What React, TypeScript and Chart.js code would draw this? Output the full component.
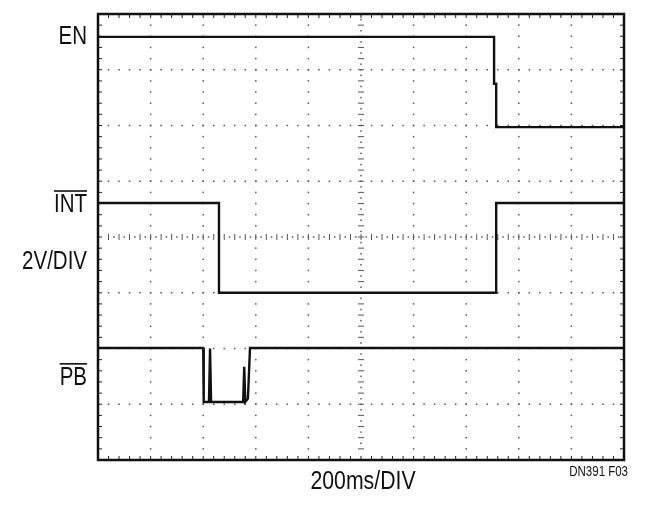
import React, { useEffect, useRef } from "react";
import { Chart, registerables } from "chart.js";

Chart.register(...registerables);

// Oscilloscope screen: 10 horizontal x 8 vertical divisions, 5 minor steps each
const xDivisions = 10;
const yDivisions = 8;
const minorPerDiv = 5;

// EN trace (x, y in divisions)
const enX = [0, 7.53, 7.53, 7.57, 7.57, 10];
const enY = [7.59, 7.59, 6.75, 6.75, 5.97, 5.97];

// INT (overbar) trace
const intX = [0, 2.3, 2.3, 7.57, 7.57, 10];
const intY = [4.61, 4.61, 3.0, 3.0, 4.61, 4.61];

// PB (overbar) trace with contact bounce
const pbX = [0, 2.0, 2.01, 2.11, 2.13, 2.15, 2.76, 2.78, 2.8, 2.85, 2.89, 10];
const pbY = [2.01, 2.01, 1.04, 1.04, 2.0, 1.04, 1.04, 1.67, 1.04, 1.1, 2.01, 2.01];

// Labels
const traceLabels = [
  { text: "EN", y: 7.58, overline: false },
  { text: "INT", y: 4.57, overline: true },
  { text: "2V/DIV", y: 3.55, overline: false },
  { text: "PB", y: 1.47, overline: true },
];
const xAxisLabel = "200ms/DIV";
const figureId = "DN391 F03";

const FONT = '"Liberation Sans", Arial, sans-serif';
const NARROW = 0.82;

const toPoints = (xs: number[], ys: number[]) => xs.map((x, i) => ({ x, y: ys[i] }));

// draw horizontally condensed text; align: "left" | "right" | "center"
function narrowText(ctx: any, text: string, x: number, y: number, align: string, squeeze: number) {
  ctx.save();
  ctx.translate(x, y);
  ctx.scale(squeeze, 1);
  ctx.textAlign = align;
  ctx.fillText(text, 0, 0);
  const w = ctx.measureText(text).width * squeeze;
  ctx.restore();
  return w;
}

const scopeGrid = {
  id: "scopeGrid",
  beforeDatasetsDraw(chart: any) {
    const { ctx, chartArea: a, scales } = chart;
    const sx = scales.x;
    const sy = scales.y;
    ctx.save();
    ctx.fillStyle = "#555";
    ctx.strokeStyle = "#555";
    ctx.lineWidth = 1;
    const dot = (px: number, py: number) => ctx.fillRect(px - 0.75, py - 0.75, 1.5, 1.5);

    // vertical dotted grid lines
    for (let i = 1; i < xDivisions; i++) {
      const px = sx.getPixelForValue(i);
      for (let j = 1; j < yDivisions * minorPerDiv; j++) {
        const py = sy.getPixelForValue(j / minorPerDiv);
        if (i === xDivisions / 2) {
          ctx.beginPath();
          ctx.moveTo(px - 3, py);
          ctx.lineTo(px + 3, py);
          ctx.stroke();
          dot(px, sy.getPixelForValue((j + 0.5) / minorPerDiv));
        } else {
          dot(px, py);
        }
      }
    }
    // horizontal dotted grid lines
    for (let i = 1; i < yDivisions; i++) {
      const py = sy.getPixelForValue(i);
      for (let j = 1; j < xDivisions * minorPerDiv; j++) {
        const px = sx.getPixelForValue(j / minorPerDiv);
        if (i === yDivisions / 2) {
          ctx.beginPath();
          ctx.moveTo(px, py - 3);
          ctx.lineTo(px, py + 3);
          ctx.stroke();
          dot(sx.getPixelForValue((j + 0.5) / minorPerDiv), py);
        } else {
          dot(px, py);
        }
      }
    }
    // border minor ticks
    ctx.strokeStyle = "#222";
    for (let j = 1; j < xDivisions * minorPerDiv; j++) {
      const px = sx.getPixelForValue(j / minorPerDiv);
      ctx.beginPath();
      ctx.moveTo(px, a.top);
      ctx.lineTo(px, a.top + 4);
      ctx.moveTo(px, a.bottom);
      ctx.lineTo(px, a.bottom - 4);
      ctx.stroke();
    }
    for (let j = 1; j < yDivisions * minorPerDiv; j++) {
      const py = sy.getPixelForValue(j / minorPerDiv);
      ctx.beginPath();
      ctx.moveTo(a.left, py);
      ctx.lineTo(a.left + 4, py);
      ctx.moveTo(a.right, py);
      ctx.lineTo(a.right - 4, py);
      ctx.stroke();
    }
    ctx.restore();
  },
  afterDraw(chart: any) {
    const { ctx, chartArea: a, scales } = chart;
    const sy = scales.y;
    ctx.save();
    // frame
    ctx.strokeStyle = "#111";
    ctx.lineWidth = 2.5;
    ctx.strokeRect(a.left, a.top, a.right - a.left, a.bottom - a.top);

    ctx.fillStyle = "#111";
    ctx.font = `25px ${FONT}`;
    ctx.textBaseline = "middle";
    const labelRight = a.left - 11;
    for (const l of traceLabels) {
      const py = sy.getPixelForValue(l.y);
      const w = narrowText(ctx, l.text, labelRight, py, "right", NARROW);
      if (l.overline) {
        ctx.fillRect(labelRight - w, py - 15, w, 1.6);
      }
    }
    narrowText(ctx, xAxisLabel, (a.left + a.right) / 2 + 2, a.bottom + 22, "center", 0.85);
    ctx.font = `14px ${FONT}`;
    narrowText(ctx, figureId, a.right + 4, a.bottom + 12, "right", 0.82);
    ctx.restore();
  },
};

export default function App() {
  const canvasRef = useRef<HTMLCanvasElement | null>(null);

  useEffect(() => {
    if (!canvasRef.current) return;
    const traceStyle = {
      borderColor: "#111",
      borderWidth: 2.4,
      pointRadius: 0,
      tension: 0,
      fill: false,
    };
    const chart = new Chart(canvasRef.current, {
      type: "line",
      data: {
        datasets: [
          { label: "EN", data: toPoints(enX, enY), ...traceStyle },
          { label: "INT", data: toPoints(intX, intY), ...traceStyle },
          { label: "PB", data: toPoints(pbX, pbY), ...traceStyle },
        ],
      },
      options: {
        animation: false,
        responsive: false,
        layout: { padding: { left: 98, top: 14, right: 22, bottom: 55 } },
        plugins: { legend: { display: false }, tooltip: { enabled: false } },
        scales: {
          x: { type: "linear", min: 0, max: xDivisions, display: false },
          y: { type: "linear", min: 0, max: yDivisions, display: false },
        },
      },
      plugins: [scopeGrid],
    });
    return () => chart.destroy();
  }, []);

  return (
    <div style={{ position: "fixed", left: 0, top: 0, width: 646, height: 515, background: "#fff" }}>
      <canvas ref={canvasRef} width={646} height={515} style={{ display: "block" }} />
    </div>
  );
}
